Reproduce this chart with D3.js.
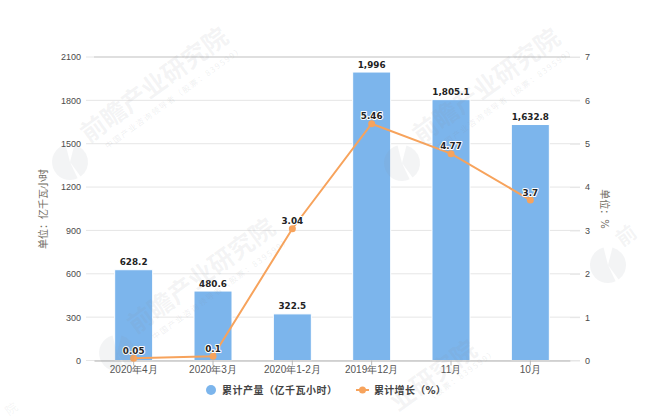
<!DOCTYPE html>
<html>
<head>
<meta charset="utf-8">
<script src="https://cdnjs.cloudflare.com/ajax/libs/d3/7.8.5/d3.min.js"></script>
<style>
  html, body { margin: 0; padding: 0; background: #fff; }
  svg { display: block; font-family: "DejaVu Sans", "Noto Sans CJK SC", sans-serif; }
</style>
</head>
<body>
<svg class="chart" width="650" height="420"></svg>
<script>
const categories = ["2020年4月", "2020年3月", "2020年1-2月", "2019年12月", "11月", "10月"];
const output = [628.2, 480.6, 322.5, 1996, 1805.1, 1632.8];
const outputLabels = ["628.2", "480.6", "322.5", "1,996", "1,805.1", "1,632.8"];
const growth = [0.05, 0.1, 3.04, 5.46, 4.77, 3.7];
const leftTicks = [0, 300, 600, 900, 1200, 1500, 1800, 2100];
const rightTicks = [0, 1, 2, 3, 4, 5, 6, 7];
const logoSpots = [[70, 162], [117, 353], [402, 163], [608, 265]];

const margin = {top: 57, right: 80, bottom: 59.5, left: 94};
const svgWidth = 650;
const svgHeight = 420;
const width = svgWidth - margin.left - margin.right;
const height = svgHeight - margin.top - margin.bottom;
const wmColor = '#8a8f99';

const svg = d3.select('svg.chart');
const g = svg.append('g').attr('transform', `translate(${margin.left}, ${margin.top})`);

const x = d3.scaleBand().domain(categories).range([0, width]);
const yLeft = d3.scaleLinear().domain([0, 2100]).range([height, 0]);
const yRight = d3.scaleLinear().domain([0, 7]).range([height, 0]);

// grid lines run a little past the plot on both sides
g.selectAll('line.grid')
  .data(leftTicks)
  .enter()
  .append('line')
  .attr('class', 'grid')
  .attr('x1', -8)
  .attr('x2', width + 10)
  .attr('y1', d => yLeft(d))
  .attr('y2', d => yLeft(d))
  .style('stroke', '#e6e6e6')
  .style('stroke-width', 1);

g.append('line')
  .attr('x1', 0).attr('x2', width)
  .attr('y1', 0).attr('y2', 0)
  .style('stroke', '#d8d8d8').style('stroke-width', 1.5);

// bars
g.selectAll('rect.bar')
  .data(output)
  .enter()
  .append('rect')
  .attr('class', 'bar')
  .attr('x', (d, i) => x(categories[i]) + x.bandwidth() / 2 - 19)
  .attr('y', d => yLeft(d))
  .attr('width', 38)
  .attr('height', d => height - yLeft(d))
  .style('fill', '#7cb5ec')
  .style('stroke', '#fff')
  .style('stroke-width', 1);

// watermark sits on top of the bars, very faint
const wm = svg.append('g').attr('class', 'watermark');
const logo = d3.arc().innerRadius(0).outerRadius(18);

function wmText(sel, str, size, opacity) {
  return sel.append('text')
    .text(str)
    .style('font-family', '"Noto Sans CJK SC", sans-serif')
    .style('font-size', size + 'px')
    .style('font-weight', size > 12 ? 700 : 400)
    .style('fill', wmColor)
    .style('fill-opacity', opacity);
}

logoSpots.forEach((d, i) => {
  const one = wm.append('g').attr('transform', `translate(${d[0]}, ${d[1]})`);
  one.append('path')
    .attr('d', logo({startAngle: 0.08 * Math.PI, endAngle: 0.8 * Math.PI}))
    .style('fill', wmColor).style('fill-opacity', 0.1);
  one.append('path')
    .attr('d', logo({startAngle: 0.86 * Math.PI, endAngle: 1.92 * Math.PI}))
    .style('fill', wmColor).style('fill-opacity', 0.1);
  if (i < 3) {
    wmText(one, '前瞻产业研究院', 25, 0.1)
      .attr('transform', 'rotate(-36) translate(26, -4)');
    wmText(one, '中国产业咨询领导者（股票：839599）', 8, 0.15)
      .style('letter-spacing', '1.5px')
      .attr('transform', 'rotate(-36) translate(38, 12)');
  } else {
    // only the first character fits before the edge
    wmText(one, '前', 20, 0.1)
      .attr('transform', 'rotate(-36) translate(22, -6)');
  }
});

// the copy that runs off the bottom of the picture, only its visible end
wmText(wm, '业研究院', 25, 0.1)
  .attr('transform', 'translate(398, 412) rotate(-36)');
wmText(wm, '（股票：839599）', 8, 0.15)
  .style('letter-spacing', '1.5px')
  .attr('transform', 'translate(430, 402) rotate(-36)');
wmText(wm, '院', 12, 0.1)
  .attr('transform', 'translate(9, 416) rotate(-36)');

// axes
const xAxis = d3.axisBottom(x).tickSize(5).tickSizeOuter(0);
const xG = g.append('g').attr('transform', `translate(0, ${height})`).call(xAxis);
xG.select('.domain').style('stroke', '#c8c8c8').style('stroke-width', 1.5);
xG.selectAll('.tick line').style('stroke', '#b8b8b8');
xG.selectAll('text').attr('y', 5).style('font-size', '10px').style('fill', '#555');

const leftG = g.append('g')
  .call(d3.axisLeft(yLeft).tickValues(leftTicks).tickFormat(d3.format('d')).tickSize(0).tickPadding(13));
leftG.select('.domain').remove();
leftG.selectAll('text').style('font-size', '9px').style('fill', '#4a4a4a');

const rightG = g.append('g')
  .attr('transform', `translate(${width}, 0)`)
  .call(d3.axisRight(yRight).tickValues(rightTicks).tickFormat(d3.format('d')).tickSize(10).tickPadding(5));
rightG.select('.domain').remove();
rightG.selectAll('.tick line').style('stroke', '#e6e6e6');
rightG.selectAll('text').style('font-size', '9px').style('fill', '#4a4a4a');

// axis titles
svg.append('text')
  .text('单位：亿千瓦小时')
  .attr('transform', 'translate(44, 209) rotate(-90)')
  .attr('text-anchor', 'middle')
  .attr('dominant-baseline', 'middle')
  .style('font-size', '10px')
  .style('fill', '#6e6a5e');

svg.append('text')
  .text('单位：%')
  .attr('transform', 'translate(604, 209) rotate(90)')
  .attr('text-anchor', 'middle')
  .attr('dominant-baseline', 'middle')
  .style('font-size', '10px')
  .style('fill', '#6e6a5e');

// growth line on the right scale
const xMid = d => x(d) + x.bandwidth() / 2;
const line = d3.line()
  .x((d, i) => xMid(categories[i]))
  .y(d => yRight(d));

g.append('path')
  .datum(growth)
  .attr('d', line)
  .style('fill', 'none')
  .style('stroke', '#f7a35c')
  .style('stroke-width', 2);

g.selectAll('circle.point')
  .data(growth)
  .enter()
  .append('circle')
  .attr('class', 'point')
  .attr('cx', (d, i) => xMid(categories[i]))
  .attr('cy', d => yRight(d))
  .attr('r', 3.5)
  .style('fill', '#f7a35c');

// data labels with a white outline
function outlined(sel) {
  return sel
    .attr('text-anchor', 'middle')
    .style('font-size', '8.8px')
    .style('font-weight', 700)
    .style('fill', '#222')
    .style('stroke', '#fff')
    .style('stroke-width', 2)
    .style('stroke-linejoin', 'round')
    .style('paint-order', 'stroke');
}

g.selectAll('text.barLabel')
  .data(output)
  .enter()
  .append('text')
  .attr('class', 'barLabel')
  .text((d, i) => outputLabels[i])
  .attr('x', (d, i) => xMid(categories[i]))
  .attr('y', d => yLeft(d) - 4.5)
  .call(outlined);

g.selectAll('text.lineLabel')
  .data(growth)
  .enter()
  .append('text')
  .attr('class', 'lineLabel')
  .text(d => d)
  .attr('x', (d, i) => xMid(categories[i]))
  .attr('y', d => yRight(d) - 4.5)
  .call(outlined);

// legend
const legend = svg.append('g').attr('transform', 'translate(0, 390)');
legend.append('circle').attr('cx', 211).attr('r', 5).style('fill', '#7cb5ec');
legend.append('text')
  .text('累计产量（亿千瓦小时）')
  .attr('x', 222).attr('dy', '0.35em')
  .style('font-size', '10px').style('font-weight', 700)
  .style('letter-spacing', '0.5px').style('fill', '#444');
legend.append('line')
  .attr('x1', 356).attr('x2', 369)
  .style('stroke', '#f7a35c').style('stroke-width', 2);
legend.append('circle').attr('cx', 362.5).attr('r', 3.5).style('fill', '#f7a35c');
legend.append('text')
  .text('累计增长（%）')
  .attr('x', 374).attr('dy', '0.35em')
  .style('font-size', '10px').style('font-weight', 700)
  .style('letter-spacing', '0.3px').style('fill', '#444');
</script>
</body>
</html>
